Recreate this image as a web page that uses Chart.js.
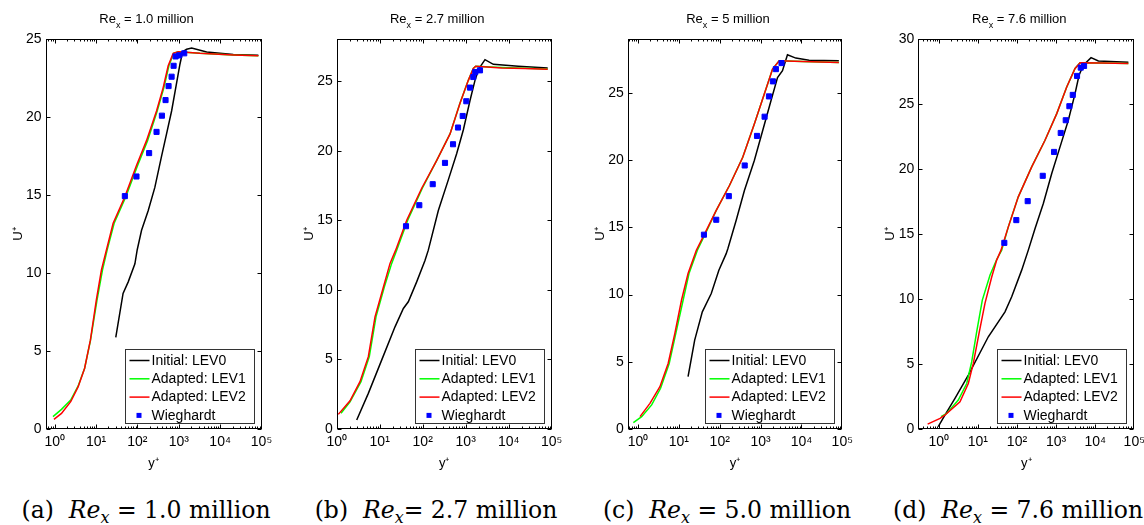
<!DOCTYPE html>
<html>
<head>
<meta charset="utf-8">
<script src="https://cdn.jsdelivr.net/npm/chart.js@4.4.0/dist/chart.umd.min.js"></script>
<style>
  body { margin: 0; background: #fff; width: 1144px; height: 525px; position: relative; overflow: hidden; }
  canvas { position: absolute; top: 0; }
  .cap { position: absolute; top: 498px; line-height: 24px; font-family: "DejaVu Serif", serif; font-size: 23.5px;
         white-space: nowrap; transform: translateX(-50%); color: #000; }
  .cap sub { font-size: 16px; vertical-align: -5px; line-height: 0; }
</style>
</head>
<body>
<script>
// ---------------------------- data ----------------------------------------
const seriesNames = ['Initial: LEV0', 'Adapted: LEV1', 'Adapted: LEV2', 'Wieghardt']
const titleValues = ['1.0', '2.7', '5', '7.6']
const captionValues = ['1.0', '2.7', '5.0', '7.6']
const captionLetters = ['a', 'b', 'c', 'd']
const xTickVals = [1, 10, 100, 1000, 10000, 100000]
const xMins = [0.6, 1, 0.56, 0.3]
const yMaxes = [25, 28, 29, 30]
const yTicksA = [0, 5, 10, 15, 20, 25]
const yTicksB = [0, 5, 10, 15, 20, 25]
const yTicksC = [0, 5, 10, 15, 20, 25]
const yTicksD = [0, 5, 10, 15, 20, 25, 30]

// (a) Re_x = 1.0 million
const aLev0X = [30, 45, 60, 87, 99, 126, 182, 264, 384, 508, 671, 887, 1067, 1240, 1550, 2050, 4720, 20800, 84000]
const aLev0Y = [5.88, 8.7, 9.44, 10.6, 11.5, 12.75, 14.0, 15.5, 17.5, 18.95, 20.4, 22.2, 23.4, 24.2, 24.36, 24.44, 24.19, 24.02, 23.97]
const aLev1X = [0.91, 1.46, 2.44, 3.68, 5.3, 7.3, 10.6, 14.3, 18.6, 27.4, 52.5, 101, 176, 301, 437, 577, 750, 970, 3250, 20800, 84000]
const aLev1Y = [0.79, 1.26, 1.86, 2.75, 3.9, 5.65, 8.3, 10.2, 11.5, 13.2, 14.9, 16.9, 18.5, 20.4, 21.9, 23.3, 24.1, 24.2, 24.1, 24.0, 23.95]
const aLev2X = [0.96, 1.46, 2.44, 3.68, 5.3, 7.3, 10.2, 13.5, 17.9, 25.9, 49.7, 95, 166, 290, 420, 555, 733, 970, 3250, 20800, 84000]
const aLev2Y = [0.62, 1.0, 1.75, 2.7, 3.9, 5.7, 8.3, 10.2, 11.5, 13.2, 14.9, 16.9, 18.5, 20.4, 21.9, 23.3, 24.1, 24.2, 24.1, 24.0, 23.95]
const aWieX = [49.7, 95, 192, 290, 391, 479, 567, 671, 750, 839, 1024, 1355]
const aWieY = [14.94, 16.2, 17.7, 19.06, 20.1, 21.1, 22.0, 22.6, 23.3, 23.9, 23.97, 24.1]

// (b) Re_x = 2.7 million
const bLev0X = [2.92, 5.44, 11.1, 22.7, 35.5, 46.3, 72.4, 113, 135, 231, 394, 618, 883, 1259, 1644, 2036, 2810, 4390, 16700, 80700]
const bLev0Y = [0.65, 2.56, 4.95, 7.34, 8.66, 9.14, 10.57, 12.1, 12.85, 15.7, 17.9, 19.8, 21.5, 23.6, 25.05, 25.9, 26.54, 26.2, 26.06, 25.94]
const bLev1X = [1.26, 2.04, 3.67, 5.73, 8.2, 12.8, 19, 24.8, 44.8, 98, 212, 432, 736, 1150, 1503, 1710, 6870, 23900, 80700]
const bLev1Y = [1.13, 1.96, 3.4, 5.2, 8.06, 10.2, 11.9, 12.85, 15.0, 17.3, 19.3, 21.2, 23.4, 25.05, 25.9, 26.06, 25.97, 25.92, 25.86]
const bLev2X = [1.09, 2.04, 3.48, 5.44, 7.78, 12.2, 17.4, 23.5, 42.5, 94.8, 212, 432, 736, 1150, 1503, 1710, 6870, 23900, 80700]
const bLev2Y = [1.05, 2.03, 3.4, 5.2, 8.06, 10.2, 11.9, 12.85, 15.0, 17.3, 19.3, 21.2, 23.4, 25.05, 25.9, 26.06, 25.94, 25.9, 25.84]
const bWieX = [40.9, 83.4, 171, 330, 507, 662, 851, 1033, 1259, 1503, 1671, 2150]
const bWieY = [14.57, 16.08, 17.59, 19.12, 20.46, 21.66, 22.49, 23.55, 24.53, 25.29, 25.65, 25.77]

// (c) Re_x = 5 million
const cLev0X = [16.8, 24.4, 37.5, 62.1, 95.3, 144, 158, 252, 402, 703, 1122, 1795, 2597, 3436, 4550, 7280, 15350, 82200]
const cLev0Y = [3.89, 6.61, 8.72, 10.08, 11.81, 13.05, 13.42, 15.52, 17.75, 19.98, 22.2, 24.43, 26.16, 26.66, 27.85, 27.6, 27.45, 27.4]
const cLev1X = [0.77, 1.23, 2.16, 3.57, 5.8, 8.4, 12.7, 17.7, 28.4, 48.6, 82.2, 173, 366, 703, 1233, 1963, 2858, 10540, 82200]
const cLev1Y = [0.47, 0.92, 1.79, 3.03, 4.88, 7.1, 9.58, 11.57, 13.3, 14.78, 16.27, 18.12, 20.22, 22.7, 24.93, 26.78, 27.4, 27.35, 27.28]
const cLev2X = [1.12, 1.96, 3.44, 5.47, 7.96, 11.6, 16.8, 26.8, 47, 82.2, 173, 366, 703, 1233, 1963, 2858, 10540, 82200]
const cLev2Y = [0.92, 1.91, 3.15, 4.88, 7.1, 9.58, 11.57, 13.3, 14.78, 16.27, 18.12, 20.22, 22.7, 24.93, 26.78, 27.4, 27.35, 27.28]
const cWieX = [41.1, 82.2, 167, 409, 818, 1253, 1603, 2004, 2371, 3251]
const cWieY = [14.46, 15.57, 17.33, 19.61, 21.81, 23.24, 24.75, 25.87, 26.78, 27.23]

// (d) Re_x = 7.6 million
const dLev0X = [0.97, 1.45, 2.6, 5.7, 18.5, 49.4, 73.3, 132, 195, 290, 472, 774, 1262, 2056, 3055, 3864, 4980, 7830, 12050, 70500]
const dLev0Y = [0.18, 1.08, 2.36, 4.15, 7.1, 9.02, 10.18, 12.23, 13.77, 15.44, 17.36, 19.67, 21.72, 23.77, 25.82, 27.23, 28.0, 28.59, 28.33, 28.23]
const dLev1X = [1.14, 1.6, 3.16, 5.19, 6.97, 9.35, 13, 20.5, 30.3, 40.7, 60.1, 108, 238, 521, 1040, 1871, 3055, 4100, 14700, 70500]
const dLev1Y = [0.95, 1.2, 2.23, 3.5, 5.18, 7.49, 9.92, 11.85, 13.05, 13.77, 15.56, 17.87, 20.18, 22.23, 24.28, 26.33, 27.75, 28.2, 28.18, 28.13]
const dLev2X = [0.52, 1.08, 1.45, 3.49, 5.7, 7.65, 10.7, 15.2, 22.6, 30.3, 39.1, 60.1, 108, 238, 521, 1040, 1871, 3055, 4100, 14700, 70500]
const dLev2Y = [0.38, 0.82, 1.08, 2.1, 3.5, 5.05, 7.36, 9.67, 11.7, 13.0, 13.77, 15.56, 17.87, 20.18, 22.23, 24.28, 26.33, 27.75, 28.2, 28.18, 28.13]
const dWieX = [47.5, 96.2, 188, 456, 887, 1315, 1766, 2188, 2673, 3436, 4276, 5190]
const dWieY = [14.33, 16.08, 17.54, 19.49, 21.33, 22.79, 23.77, 24.85, 25.72, 27.18, 27.82, 27.95]

// ---------------------------- layout --------------------------------------
const FONT = '"Liberation Sans", Arial, sans-serif'
const SUP = ['\u2070', '\u00b9', '\u00b2', '\u00b3', '\u2074', '\u2075']
const CANVAS_H = 480
const YAXIS_W = 35.3
const boxes = [
    { left: 0,   width: 286, plotL: 45.5, plotR: 261.5, capX: 146 },
    { left: 286, width: 286, plotL: 50.7, plotR: 265.7, capX: 436 },
    { left: 572, width: 286, plotL: 55.7, plotR: 271.3, capX: 727 },
    { left: 858, width: 300, plotL: 60.3, plotR: 276.3, capX: 1018 }
]

const pts = (xs, ys) => xs.map((x, i) => ({ x: x, y: ys[i] }))

const makeSets = (l0x, l0y, l1x, l1y, l2x, l2y, wx, wy) => [
    { label: seriesNames[0], data: pts(l0x, l0y), showLine: true, borderColor: '#000000', borderWidth: 1.5, pointRadius: 0, order: 3 },
    { label: seriesNames[1], data: pts(l1x, l1y), showLine: true, borderColor: '#00ff00', borderWidth: 1.5, pointRadius: 0, order: 2 },
    { label: seriesNames[2], data: pts(l2x, l2y), showLine: true, borderColor: '#ff0000', borderWidth: 1.5, pointRadius: 0, order: 1 },
    { label: seriesNames[3], data: pts(wx, wy), showLine: false, pointStyle: 'rect', pointRadius: 3.6,
      pointBackgroundColor: '#0000ff', pointBorderColor: '#0000ff', pointBorderWidth: 1, order: 0 }
]

const allSets = [
    makeSets(aLev0X, aLev0Y, aLev1X, aLev1Y, aLev2X, aLev2Y, aWieX, aWieY),
    makeSets(bLev0X, bLev0Y, bLev1X, bLev1Y, bLev2X, bLev2Y, bWieX, bWieY),
    makeSets(cLev0X, cLev0Y, cLev1X, cLev1Y, cLev2X, cLev2Y, cWieX, cWieY),
    makeSets(dLev0X, dLev0Y, dLev1X, dLev1Y, dLev2X, dLev2Y, dWieX, dWieY)
]
const allYTicks = [yTicksA, yTicksB, yTicksC, yTicksD]

//------------------------- plugins ------------------------------------------

// box round the axes with matlab style inward ticks
const framePlugin = {
    id: 'frame',
    afterDraw(chart) {
        const { ctx, chartArea: ca, scales } = chart
        const x = scales.x, y = scales.y
        const L = Math.round(ca.left) + 0.5, R = Math.round(ca.right) - 0.5
        const T = Math.round(ca.top) + 0.5, B = Math.round(ca.bottom) - 0.5
        ctx.save()
        ctx.strokeStyle = '#000'
        ctx.lineWidth = 1
        ctx.strokeRect(L, T, R - L, B - T)
        ctx.beginPath()
        y.ticks.forEach(t => {
            const py = Math.round(y.getPixelForValue(t.value)) + 0.5
            ctx.moveTo(L, py); ctx.lineTo(L + 4, py)
            ctx.moveTo(R, py); ctx.lineTo(R - 4, py)
        })
        for (let d = -1; d < 5; d++) {
            for (let k = 1; k < 10; k++) {
                const v = k * Math.pow(10, d)
                if (v <= x.min || v >= x.max) continue
                const px = Math.round(x.getPixelForValue(v)) + 0.5
                const len = k === 1 ? 4 : 2
                ctx.moveTo(px, B); ctx.lineTo(px, B - len)
                ctx.moveTo(px, T); ctx.lineTo(px, T + len)
            }
        }
        ctx.stroke()
        ctx.restore()
    }
}

// legend box in the lower right corner of the axes
const legendPlugin = {
    id: 'boxLegend',
    afterDraw(chart) {
        const { ctx, chartArea: ca } = chart
        const w = 129, h = 74
        const bx = Math.round(ca.right - 8 - w) + 0.5
        const by = Math.round(ca.bottom - 6 - h) + 0.5
        ctx.save()
        ctx.fillStyle = '#fff'
        ctx.fillRect(bx, by, w, h)
        ctx.strokeStyle = '#333'
        ctx.lineWidth = 1
        ctx.strokeRect(bx, by, w, h)
        ctx.font = '14px ' + FONT
        ctx.textBaseline = 'middle'
        chart.data.datasets.forEach((ds, i) => {
            const cy = by + 11 + i * 18.3
            if (ds.showLine) {
                ctx.strokeStyle = ds.borderColor
                ctx.lineWidth = 1.5
                ctx.beginPath()
                ctx.moveTo(bx + 4, cy); ctx.lineTo(bx + 24, cy)
                ctx.stroke()
            } else {
                ctx.fillStyle = ds.pointBackgroundColor
                ctx.fillRect(bx + 11, cy - 2.5, 5, 5)
            }
            ctx.fillStyle = '#000'
            ctx.fillText(ds.label, bx + 26, cy + 0.5)
        })
        ctx.restore()
    }
}

// "Re_x = ... million" title with a real subscript
const titlePlugin = {
    id: 'reTitle',
    afterDraw(chart, args, opts) {
        const { ctx, chartArea: ca } = chart
        const cx = (ca.left + ca.right) / 2 - 7
        const base = 23
        const rest = ' = ' + opts.value + ' million'
        ctx.save()
        ctx.fillStyle = '#000'
        ctx.textBaseline = 'alphabetic'
        ctx.font = '13px ' + FONT
        const w1 = ctx.measureText('Re').width
        const w3 = ctx.measureText(rest).width
        ctx.font = '9px ' + FONT
        const w2 = ctx.measureText('x').width
        let sx = cx - (w1 + w2 + w3) / 2
        ctx.font = '13px ' + FONT
        ctx.fillText('Re', sx, base)
        ctx.font = '9px ' + FONT
        ctx.fillText('x', sx + w1, base + 5)
        ctx.font = '13px ' + FONT
        ctx.fillText(rest, sx + w1 + w2, base)
        ctx.restore()
    }
}

//------------------------- build the four panels ----------------------------

boxes.forEach((box, i) => {
    const canvas = document.createElement('canvas')
    canvas.width = box.width
    canvas.height = CANVAS_H
    canvas.style.left = box.left + 'px'
    document.body.append(canvas)

    const yTicks = allYTicks[i]
    const config = {
        type: 'scatter',
        data: { datasets: allSets[i] },
        options: {
            responsive: false,
            animation: false,
            devicePixelRatio: 1,
            events: [],
            layout: { padding: { left: box.plotL - YAXIS_W, right: box.width - box.plotR, top: 39.3, bottom: 9.2 } },
            plugins: {
                legend: { display: false },
                title: { display: false },
                tooltip: { enabled: false },
                reTitle: { value: titleValues[i] }
            },
            scales: {
                x: {
                    type: 'logarithmic',
                    min: xMins[i],
                    max: 100000,
                    grid: { display: false, drawTicks: false },
                    border: { display: false },
                    afterBuildTicks: s => { s.ticks = xTickVals.filter(v => v >= s.min && v <= s.max).map(v => ({ value: v })) },
                    afterFit: s => { s.height = 41.8 },
                    ticks: {
                        autoSkip: false, maxRotation: 0, padding: 5, color: '#000',
                        font: { family: FONT, size: 14 },
                        callback: v => '10' + SUP[Math.round(Math.log10(v))]
                    },
                    title: { display: true, text: 'y\u207a', color: '#000', padding: 0, font: { family: FONT, size: 13 } }
                },
                y: {
                    type: 'linear',
                    min: 0,
                    max: yMaxes[i],
                    grid: { display: false, drawTicks: false },
                    border: { display: false },
                    afterBuildTicks: s => { s.ticks = yTicks.map(v => ({ value: v })) },
                    afterFit: s => { s.width = YAXIS_W },
                    ticks: { padding: 4, color: '#000', font: { family: FONT, size: 14 } },
                    title: { display: true, text: 'U\u207a', color: '#000', padding: 0, font: { family: FONT, size: 13 } }
                }
            }
        },
        plugins: [framePlugin, legendPlugin, titlePlugin]
    }
    new Chart(canvas, config)

    const cap = document.createElement('div')
    cap.className = 'cap'
    cap.style.left = box.capX + 'px'
    const eq = captionLetters[i] === 'b' ? '= ' : ' = '
    cap.innerHTML = '(' + captionLetters[i] + ')&nbsp; <i>Re<sub>x</sub></i>' + eq + captionValues[i] + ' million'
    document.body.append(cap)
})
</script>
</body>
</html>
